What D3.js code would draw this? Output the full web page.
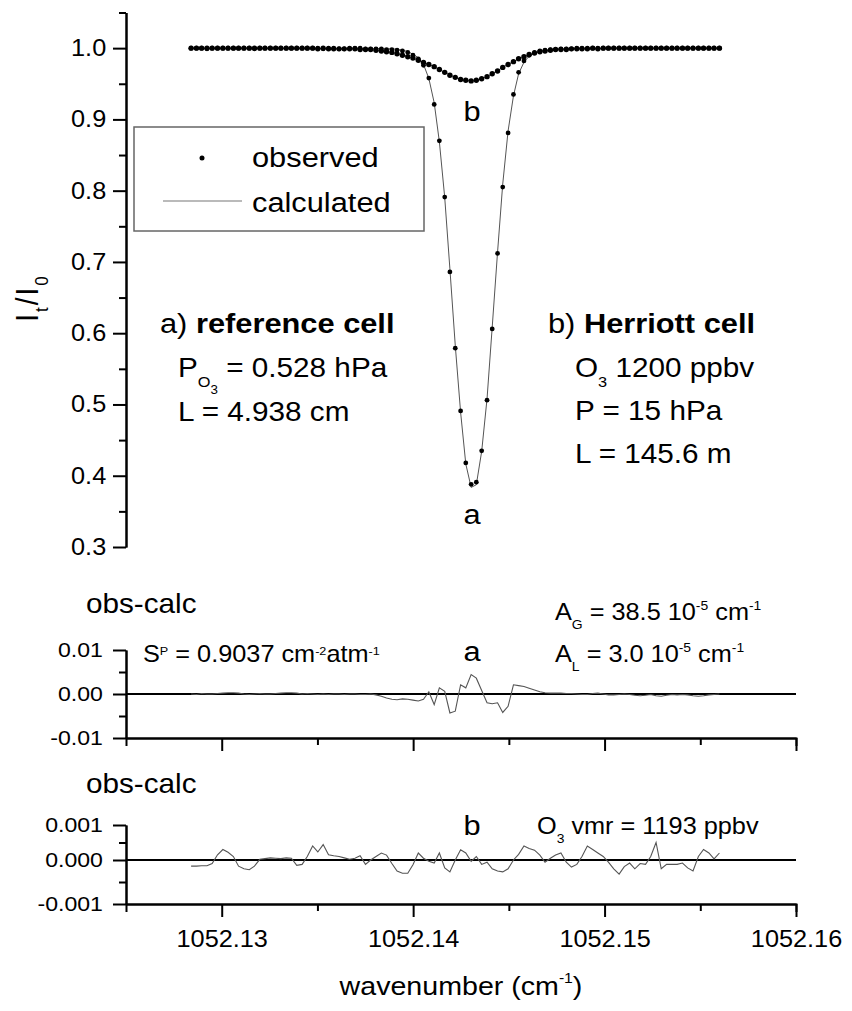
<!DOCTYPE html>
<html>
<head>
<meta charset="utf-8">
<script src="https://cdn.jsdelivr.net/npm/d3@7"></script>
<style>
  body { margin: 0; background: #fff; }
  svg { display: block; font-family: "Liberation Sans", Arial, Helvetica, sans-serif; }
</style>
</head>
<body>
<svg id="chart" width="852" height="1011"></svg>
<script>
// sample grid, cm-1
const wavenumber = [
  1052.12840, 1052.12868, 1052.12895, 1052.12923, 1052.12950, 1052.12978, 1052.13006, 1052.13033, 1052.13061, 1052.13088,
  1052.13116, 1052.13144, 1052.13171, 1052.13199, 1052.13226, 1052.13254, 1052.13282, 1052.13309, 1052.13337, 1052.13364,
  1052.13392, 1052.13420, 1052.13447, 1052.13475, 1052.13502, 1052.13530, 1052.13558, 1052.13585, 1052.13613, 1052.13640,
  1052.13668, 1052.13696, 1052.13723, 1052.13751, 1052.13778, 1052.13806, 1052.13834, 1052.13861, 1052.13889, 1052.13916,
  1052.13944, 1052.13972, 1052.13999, 1052.14027, 1052.14054, 1052.14082, 1052.14110, 1052.14137, 1052.14165, 1052.14192,
  1052.14220, 1052.14248, 1052.14275, 1052.14303, 1052.14330, 1052.14358, 1052.14386, 1052.14413, 1052.14441, 1052.14468,
  1052.14496, 1052.14524, 1052.14551, 1052.14579, 1052.14606, 1052.14634, 1052.14662, 1052.14689, 1052.14717, 1052.14744,
  1052.14772, 1052.14800, 1052.14827, 1052.14855, 1052.14882, 1052.14910, 1052.14938, 1052.14965, 1052.14993, 1052.15020,
  1052.15048, 1052.15076, 1052.15103, 1052.15131, 1052.15158, 1052.15186, 1052.15214, 1052.15241, 1052.15269, 1052.15296,
  1052.15324, 1052.15352, 1052.15379, 1052.15407, 1052.15434, 1052.15462, 1052.15490, 1052.15517, 1052.15545, 1052.15572,
  1052.15600
];

// a) reference cell, observed It/I0
const observedA = [
  1.000, 1.000, 1.000, 0.999, 1.000, 1.000, 1.000, 1.000, 1.000, 1.000,
  1.000, 1.000, 0.999, 1.000, 1.000, 1.000, 1.000, 1.000, 1.000, 1.000,
  1.000, 1.000, 1.000, 1.000, 1.000, 0.999, 1.000, 1.000, 0.999, 0.999,
  1.000, 1.000, 1.000, 0.999, 0.999, 0.999, 0.999, 0.998, 0.998, 0.997,
  0.996, 0.994, 0.990, 0.985, 0.976, 0.958, 0.921, 0.870, 0.791, 0.686,
  0.579, 0.491, 0.418, 0.388, 0.391, 0.435, 0.506, 0.606, 0.712, 0.805,
  0.881, 0.935, 0.966, 0.982, 0.990, 0.994, 0.996, 0.997, 0.998, 0.998,
  0.999, 0.999, 0.999, 1.000, 1.000, 1.000, 1.000, 1.000, 1.000, 1.000,
  1.000, 1.000, 1.000, 1.000, 1.000, 1.000, 1.000, 1.000, 1.000, 1.000,
  1.000, 1.000, 1.000, 1.000, 1.000, 1.000, 1.000, 1.000, 1.000, 1.000,
  1.000
];

// b) Herriott cell, observed It/I0
const observedB = [
  1.000, 1.000, 1.000, 1.000, 1.000, 1.000, 1.000, 1.000, 1.000, 1.000,
  1.000, 1.000, 1.000, 1.000, 1.000, 1.000, 1.000, 1.000, 1.000, 1.000,
  1.000, 1.000, 1.000, 1.000, 0.999, 1.000, 0.999, 0.999, 0.999, 0.999,
  0.999, 0.999, 0.998, 0.998, 0.998, 0.997, 0.996, 0.995, 0.994, 0.992,
  0.990, 0.988, 0.986, 0.983, 0.980, 0.977, 0.974, 0.970, 0.966, 0.962,
  0.959, 0.956, 0.955, 0.954, 0.955, 0.957, 0.960, 0.964, 0.968, 0.973,
  0.977, 0.981, 0.985, 0.988, 0.991, 0.993, 0.995, 0.996, 0.997, 0.998,
  0.998, 0.998, 0.999, 0.999, 0.999, 0.999, 1.000, 0.999, 1.000, 1.000,
  1.000, 1.000, 1.000, 1.000, 1.000, 1.000, 1.000, 1.000, 1.000, 1.000,
  1.000, 1.000, 1.000, 1.000, 1.000, 1.000, 1.000, 1.000, 1.000, 1.000,
  1.000
];

// obs-calc, reference cell
const residualA = [
  0.0000, -0.0001, 0.0001, 0.0000, 0.0000, 0.0001, 0.0002, 0.0003, 0.0003, 0.0002,
  0.0000, -0.0001, 0.0000, 0.0001, 0.0000, 0.0000, 0.0001, 0.0002, 0.0003, 0.0003,
  0.0002, 0.0000, 0.0001, 0.0000, -0.0001, 0.0000, -0.0001, 0.0000, 0.0000, -0.0001,
  0.0000, 0.0000, -0.0001, -0.0001, 0.0000, -0.0002, -0.0005, -0.0009, -0.0012, -0.0013,
  -0.0011, -0.0012, -0.0014, -0.0016, -0.0012, 0.0005, -0.0024, 0.0014, 0.0006, -0.0043,
  -0.0039, 0.0021, 0.0014, 0.0044, 0.0036, 0.0008, -0.0020, -0.0022, -0.0020, -0.0042,
  -0.0028, 0.0021, 0.0019, 0.0017, 0.0013, 0.0009, 0.0005, 0.0003, 0.0002, 0.0002,
  0.0002, 0.0001, 0.0001, 0.0000, -0.0001, -0.0001, 0.0001, 0.0002, 0.0000, -0.0002,
  -0.0002, -0.0001, 0.0000, -0.0001, -0.0003, -0.0004, -0.0003, -0.0001, -0.0004, -0.0005,
  -0.0003, -0.0001, -0.0002, -0.0001, -0.0002, -0.0004, -0.0005, -0.0004, -0.0002, -0.0001,
  0.0000
];

// obs-calc, Herriott cell
const residualB = [
  -0.00014, -0.00014, -0.00013, -0.00013, -0.00008, 0.00015, 0.00030, 0.00022, 0.00010, -0.00014,
  -0.00020, -0.00022, -0.00014, 0.00002, 0.00004, 0.00006, 0.00005, 0.00004, 0.00006, 0.00005,
  -0.00012, -0.00010, 0.00010, 0.00040, 0.00023, 0.00044, 0.00015, 0.00012, 0.00010, 0.00006,
  0.00002, 0.00005, 0.00012, -0.00010, 0.00000, 0.00010, 0.00020, 0.00014, -0.00008, -0.00025,
  -0.00030, -0.00030, -0.00011, 0.00020, 0.00005, -0.00003, -0.00007, 0.00020, -0.00018, -0.00027,
  0.00000, 0.00029, 0.00020, -0.00003, 0.00010, -0.00010, -0.00005, -0.00020, -0.00025, -0.00027,
  -0.00020, 0.00000, 0.00016, 0.00040, 0.00033, 0.00028, 0.00014, -0.00005, 0.00005, 0.00014,
  0.00020, -0.00005, -0.00016, -0.00010, 0.00010, 0.00040, 0.00030, 0.00020, 0.00010, -0.00005,
  -0.00020, -0.00032, -0.00015, -0.00007, -0.00020, -0.00008, -0.00010, 0.00010, 0.00050, -0.00020,
  -0.00010, -0.00010, -0.00010, -0.00007, -0.00018, -0.00025, 0.00010, 0.00030, 0.00020, 0.00003,
  0.00020
];

const xMajorTicks = [1052.13, 1052.14, 1052.15, 1052.16];
const xMinorTicks = [1052.135, 1052.145, 1052.155];
const topMajorTicks = [0.3, 0.4, 0.5, 0.6, 0.7, 0.8, 0.9, 1.0];
const topMinorTicks = [0.35, 0.45, 0.55, 0.65, 0.75, 0.85, 0.95, 1.05];
const midMajorTicks = [-0.01, 0, 0.01];
const midMinorTicks = [-0.005, 0.005];
const botMajorTicks = [-0.001, 0, 0.001];
const botMinorTicks = [-0.0005, 0.0005];

// calc = obs - (obs-calc)
const calculatedA = observedA.map((v, i) => v - residualA[i]);
const calculatedB = observedB.map((v, i) => v - residualB[i]);

const SX = 1.1; // the source figure's lettering is a bit wide
const svg = d3.select("#chart");
svg.append("rect").attr("width", 852).attr("height", 1011).attr("fill", "#fff");

const x = d3.scaleLinear().domain([1052.125, 1052.16]).range([126, 796]);
const yTop = d3.scaleLinear().domain([0.3, 1.05]).range([547, 12.5]);
const yMid = d3.scaleLinear().domain([-0.01, 0.01]).range([738, 650]);
const yBot = d3.scaleLinear().domain([-0.001, 0, 0.001]).range([904, 860, 825]);

function styleAxis(g, size) {
  g.attr("font-family", null).attr("font-size", size);
  g.selectAll("path.domain").attr("stroke", "#000").attr("stroke-width", 2);
  g.selectAll(".tick line").attr("stroke", "#000").attr("stroke-width", 2);
  g.selectAll(".tick text").attr("fill", "#000").attr("transform", `scale(${SX},1)`);
}

function leftAxis(scale, major, minor, fmt, pad, size) {
  svg.append("g").attr("transform", "translate(126,0)")
    .call(d3.axisLeft(scale).tickValues(minor).tickSize(7).tickSizeOuter(0).tickFormat(""))
    .call(g => styleAxis(g, size));
  svg.append("g").attr("transform", "translate(126,0)")
    .call(d3.axisLeft(scale).tickValues(major).tickSize(13).tickSizeOuter(0).tickPadding(pad).tickFormat(fmt))
    .call(g => styleAxis(g, size));
}

function bottomAxis(yPos, withLabels) {
  svg.append("g").attr("transform", `translate(0,${yPos})`)
    .call(d3.axisBottom(x).tickValues(xMinorTicks).tickSize(7).tickSizeOuter(0).tickFormat(""))
    .call(g => styleAxis(g, 23));
  svg.append("g").attr("transform", `translate(0,${yPos})`)
    .call(d3.axisBottom(x).tickValues(xMajorTicks).tickSize(13).tickSizeOuter(8).tickPadding(14)
      .tickFormat(withLabels ? (d => d.toFixed(2)) : ""))
    .call(g => styleAxis(g, 23));
}

const KINDS = {
  b: { dy: 0, k: 1, bold: true },
  sub: { dy: 0.37, k: 0.55 },
  sub2: { dy: 0.62, k: 0.45 },
  sup: { dy: -0.45, k: 0.55 },
  supLow: { dy: -0.32, k: 0.5 }
};

function label(xPos, yPos, parts, size, anchor = "start") {
  const t = svg.append("text")
    .attr("transform", `translate(${xPos},${yPos}) scale(${SX},1)`)
    .attr("text-anchor", anchor)
    .attr("font-size", size)
    .attr("fill", "#000");
  let shift = 0;
  parts.forEach(p => {
    const [str, kind] = Array.isArray(p) ? p : [p, null];
    const spec = KINDS[kind] || { dy: 0, k: 1 };
    const target = spec.dy * size;
    t.append("tspan")
      .attr("dy", target - shift)
      .attr("font-size", size * spec.k)
      .attr("font-weight", spec.bold ? "bold" : null)
      .text(str);
    shift = target;
  });
  return t;
}

// axes
leftAxis(yTop, topMajorTicks, topMinorTicks, d => d.toFixed(1), 5, 23);
leftAxis(yMid, midMajorTicks, midMinorTicks, d => d.toFixed(2), 8, 21);
leftAxis(yBot, botMajorTicks, botMinorTicks, d => d.toFixed(3), 8, 21);
bottomAxis(738, false);
bottomAxis(904, true);

// zero lines
[yMid, yBot].forEach(s => {
  svg.append("line")
    .attr("x1", x(1052.125)).attr("x2", x(1052.16))
    .attr("y1", s(0)).attr("y2", s(0))
    .attr("stroke", "#000").attr("stroke-width", 2);
});

// top panel: calculated lines and observed dots
const lineTop = d3.line().x((d, i) => x(wavenumber[i])).y(d => yTop(d));
[calculatedA, calculatedB].forEach(series => {
  svg.append("path").datum(series).attr("d", lineTop)
    .attr("fill", "none").attr("stroke", "#555").attr("stroke-width", 1);
});
[[observedA, 2.4], [observedB, 2.7]].forEach(([series, r]) => {
  svg.append("g").selectAll("circle").data(series).enter().append("circle")
    .attr("cx", (d, i) => x(wavenumber[i]))
    .attr("cy", d => yTop(d))
    .attr("r", r)
    .attr("fill", "#000");
});

// residual panels
const lineMid = d3.line().x((d, i) => x(wavenumber[i])).y(d => yMid(d));
const lineBot = d3.line().x((d, i) => x(wavenumber[i])).y(d => yBot(d));
svg.append("path").datum(residualA).attr("d", lineMid)
  .attr("fill", "none").attr("stroke", "#555").attr("stroke-width", 1.1);
svg.append("path").datum(residualB).attr("d", lineBot)
  .attr("fill", "none").attr("stroke", "#555").attr("stroke-width", 1.1);

// legend
svg.append("rect").attr("x", 134).attr("y", 127).attr("width", 290).attr("height", 104)
  .attr("fill", "#fff").attr("stroke", "#666").attr("stroke-width", 1.5);
svg.append("circle").attr("cx", 202).attr("cy", 158).attr("r", 2.5).attr("fill", "#000");
svg.append("line").attr("x1", 163).attr("x2", 242).attr("y1", 201).attr("y2", 201)
  .attr("stroke", "#777").attr("stroke-width", 1.2);
label(252, 167, ["observed"], 28);
label(252, 212, ["calculated"], 28);

// y-axis title
svg.append("text")
  .attr("transform", `translate(38,298) scale(${SX},1) rotate(-90)`)
  .attr("text-anchor", "middle")
  .attr("font-size", 28)
  .attr("letter-spacing", 2)
  .attr("fill", "#000")
  .call(t => {
    t.append("tspan").text("I");
    t.append("tspan").attr("dy", 9).attr("font-size", 17).text("t");
    t.append("tspan").attr("dy", -9).text("/I");
    t.append("tspan").attr("dy", 9).attr("font-size", 17).text("0");
  });

// top panel annotations
label(472, 121, ["b"], 28, "middle");
label(472, 524, ["a"], 28, "middle");
label(160, 333, ["a) ", ["reference cell", "b"]], 28);
label(178, 377, ["P", ["O", "sub"], ["3", "sub2"], " = 0.528 hPa"], 27);
label(178, 421, ["L = 4.938 cm"], 27);
label(548, 333, ["b) ", ["Herriott cell", "b"]], 28);
label(575, 377, ["O", ["3", "sub"], " 1200 ppbv"], 27);
label(575, 420, ["P = 15 hPa"], 27);
label(575, 463, ["L = 145.6 m"], 27);

// residual panel annotations
label(86, 613, ["obs-calc"], 27);
label(143, 662, ["S", ["P", "supLow"], " = 0.9037 cm", ["-2", "supLow"], "atm", ["-1", "supLow"]], 23);
label(555, 620, ["A", ["G", "sub"], " = 38.5 10", ["-5", "sup"], " cm", ["-1", "sup"]], 23);
label(555, 662, ["A", ["L", "sub"], " = 3.0 10", ["-5", "sup"], " cm", ["-1", "sup"]], 23);
label(472, 661, ["a"], 28, "middle");

label(86, 793, ["obs-calc"], 27);
label(472, 835, ["b"], 28, "middle");
label(537, 834, ["O", ["3", "sub"], " vmr = 1193 ppbv"], 23);

label(461, 995, ["wavenumber (cm", ["-1", "sup"], ")"], 26, "middle");
</script>
</body>
</html>
